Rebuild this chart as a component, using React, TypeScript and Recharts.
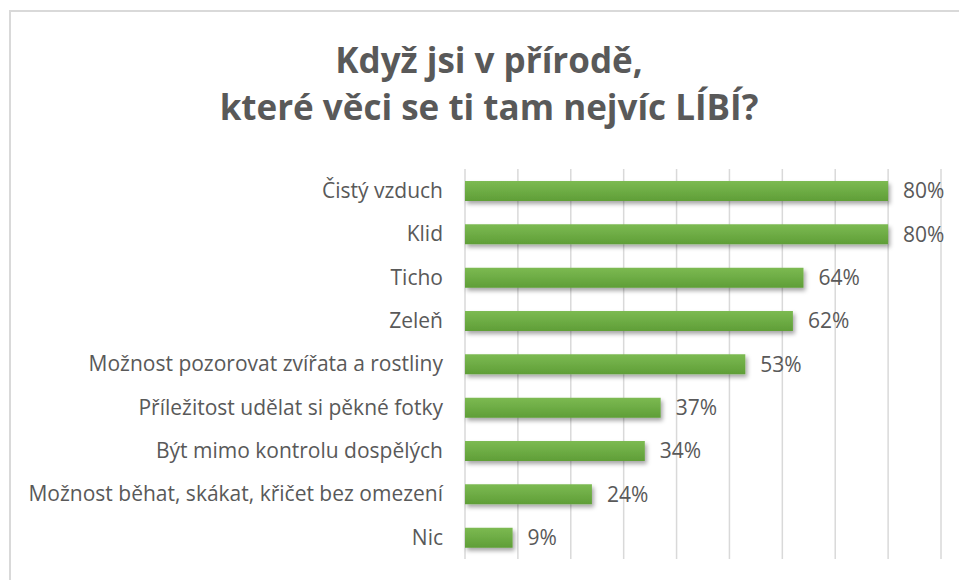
import React from "react";
import { BarChart, Bar, XAxis, YAxis, CartesianGrid, LabelList } from "recharts";

const categories = [
  "Čistý vzduch",
  "Klid",
  "Ticho",
  "Zeleň",
  "Možnost pozorovat zvířata a rostliny",
  "Příležitost udělat si pěkné fotky",
  "Být mimo kontrolu dospělých",
  "Možnost běhat, skákat, křičet bez omezení",
  "Nic",
];
const values = [80, 80, 64, 62, 53, 37, 34, 24, 9];
const xTicks = [0, 10, 20, 30, 40, 50, 60, 70, 80, 90];
const titleLines = ["Když jsi v přírodě,", "které věci se ti tam nejvíc LÍBÍ?"];

const data = categories.map((name, i) => ({ name, value: values[i] }));

const FONT = "'Open Sans', 'DejaVu Sans', sans-serif";
const TEXT = "#595959";

export default function App() {
  return (
    <div
      style={{
        position: "absolute",
        left: 0,
        top: 0,
        width: 959,
        height: 580,
        overflow: "hidden",
        background: "#fff",
      }}
    >
      <div
        style={{
          position: "absolute",
          left: 9,
          top: 10,
          width: 980,
          height: 600,
          border: "2px solid #d9d9d9",
          boxSizing: "border-box",
        }}
      />
      <svg
        width={959}
        height={580}
        style={{ position: "absolute", left: 0, top: 0, pointerEvents: "none" }}
      >
        {titleLines.map((t, i) => (
          <text
            key={i}
            x={489}
            y={73 + i * 47}
            textAnchor="middle"
            fontFamily={FONT}
            fontWeight={700}
            fontSize={35}
            fill={TEXT}
          >
            {t}
          </text>
        ))}
      </svg>
      <div style={{ position: "absolute", left: 0, top: 0 }}>
        <BarChart
          width={959}
          height={580}
          data={data}
          layout="vertical"
          margin={{ top: 169, right: 18, bottom: 21, left: 0 }}
          barSize={20}
        >
          <defs>
            <linearGradient id="barGrad" x1="0" y1="0" x2="0" y2="1">
              <stop offset="0%" stopColor="#7cba52" />
              <stop offset="100%" stopColor="#5f9e37" />
            </linearGradient>
            <filter id="barShadow" x="-5%" y="-40%" width="115%" height="200%">
              <feDropShadow dx="2" dy="3" stdDeviation="2" floodColor="#000" floodOpacity="0.35" />
            </filter>
          </defs>
          <CartesianGrid horizontal={false} stroke="#d9d9d9" strokeWidth={1.5} />
          <XAxis type="number" domain={[0, 90]} ticks={xTicks} hide />
          <YAxis
            type="category"
            dataKey="name"
            width={465}
            interval={0}
            tickLine={false}
            axisLine={false}
            tickSize={0}
            tickMargin={22}
            tick={{ fill: TEXT, fontSize: 21, fontFamily: FONT }}
          />
          <Bar
            dataKey="value"
            fill="url(#barGrad)"
            filter="url(#barShadow)"
            isAnimationActive={false}
          >
            <LabelList
              dataKey="value"
              position="right"
              offset={15}
              formatter={(v: any) => `${v}%`}
              fill={TEXT}
              fontSize={21}
              fontFamily={FONT}
            />
          </Bar>
        </BarChart>
      </div>
    </div>
  );
}
